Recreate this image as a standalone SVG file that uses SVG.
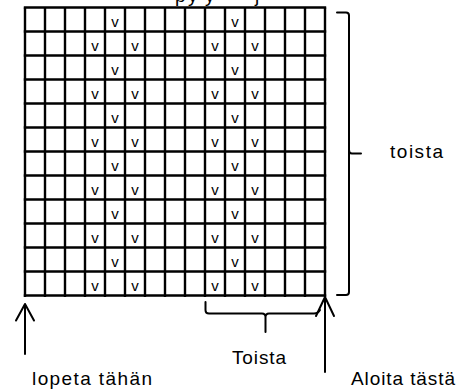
<svg xmlns="http://www.w3.org/2000/svg" width="470" height="389" viewBox="0 0 470 389">
<style>
.g{stroke:#000;stroke-width:2.4;fill:none}
.c{stroke:#000;stroke-width:2;fill:none;stroke-linecap:round;stroke-linejoin:round}
.v{font-family:"Liberation Sans",Arial,sans-serif;font-size:15px;text-anchor:middle;fill:#000}
.t{font-family:"Liberation Sans",Arial,sans-serif;font-size:19px;fill:#000}
</style>
<rect width="470" height="389" fill="#fff"/>
<text class="t" y="1.5"><tspan x="175">p</tspan><tspan x="188">y</tspan><tspan x="205">y</tspan><tspan x="255">j</tspan></text>
<g id="grid">
<path class="g" d="M25 7.5V297M45 7.5V297M65 7.5V297M85 7.5V297M105 7.5V297M125 7.5V297M145 7.5V297M165 7.5V297M185 7.5V297M205 7.5V297M225 7.5V297M245 7.5V297M265 7.5V297M285 7.5V297M305 7.5V297M325 7.5V297"/>
<path class="g" d="M23.8 7.5H326.2M23.8 31.5H326.2M23.8 55.5H326.2M23.8 79.5H326.2M23.8 103.5H326.2M23.8 127.5H326.2M23.8 151.5H326.2M23.8 175.5H326.2M23.8 199.5H326.2M23.8 223.5H326.2M23.8 247.5H326.2M23.8 271.5H326.2M23.8 295.5H326.2"/>
<g class="v">
<text x="115" y="27">v</text><text x="235" y="27">v</text>
<text x="95" y="51">v</text><text x="135" y="51">v</text><text x="215" y="51">v</text><text x="255" y="51">v</text>
<text x="115" y="75">v</text><text x="235" y="75">v</text>
<text x="95" y="99">v</text><text x="135" y="99">v</text><text x="215" y="99">v</text><text x="255" y="99">v</text>
<text x="115" y="123">v</text><text x="235" y="123">v</text>
<text x="95" y="147">v</text><text x="135" y="147">v</text><text x="215" y="147">v</text><text x="255" y="147">v</text>
<text x="115" y="171">v</text><text x="235" y="171">v</text>
<text x="95" y="195">v</text><text x="135" y="195">v</text><text x="215" y="195">v</text><text x="255" y="195">v</text>
<text x="115" y="219">v</text><text x="235" y="219">v</text>
<text x="95" y="243">v</text><text x="135" y="243">v</text><text x="215" y="243">v</text><text x="255" y="243">v</text>
<text x="115" y="267">v</text><text x="235" y="267">v</text>
<text x="95" y="291">v</text><text x="135" y="291">v</text><text x="215" y="291">v</text><text x="255" y="291">v</text>
</g>
</g>
<g id="connectors">
<path class="c" d="M337 12.5H346Q349 12.5 349 15.5V150Q349 153.5 352 153.5H361M349 150V292Q349 295 346 295H337"/>
<path class="c" d="M205.5 302V310Q205.5 313.5 209 313.5H262Q265.5 313.5 265.5 317V332M265.5 317Q265.5 313.5 269 313.5H314Q318 313.5 320 310"/>
<path class="c" d="M25 354V304M16 320.5L25 304L34 320.5"/>
<path class="c" d="M325 372V297M316 316L325 297L334 316"/>
</g>
<g id="labels">
<text class="t" x="390" y="158" textLength="53">toista</text>
<text class="t" x="232" y="364" textLength="54">Toista</text>
<text class="t" x="32" y="385" textLength="120">lopeta tähän</text>
<text class="t" x="351" y="385" textLength="104">Aloita tästä</text>
</g>
</svg>
